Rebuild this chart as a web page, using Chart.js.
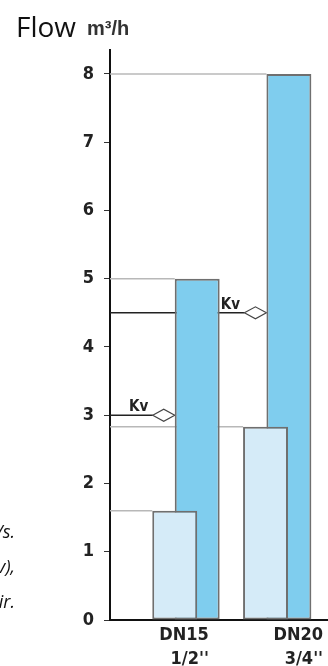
<!DOCTYPE html>
<html lang="en">
<head>
<meta charset="UTF-8">
<script src="https://cdn.jsdelivr.net/npm/chart.js"></script>
<style>
  body { margin: 0; background: #fff; }
  canvas { display: block; }
</style>
</head>
<body>
<canvas id="flowChart" width="328" height="666"></canvas>
<script>
// data
const categories = ['DN15', 'DN20'];
const sizeLabels = ["1/2''", "3/4''"];
const lightValues = [1.6, 2.83];
const darkValues = [5, 8];
const kvValues = [3, 4.5];
const lightPos = [1.44, 3.46];
const darkPos = [1.94, 3.98];
const labelPos = [2.2, 4.74];
const yTicks = [0, 1, 2, 3, 4, 5, 6, 7, 8];
const sideNotes = ['/s.', 'v),', 'ir.'];

const narrow = "'Liberation Sans Narrow', 'DejaVu Sans Condensed', sans-serif";

function kvPoints(chart) {
  const y = chart.scales.y;
  const dark = chart.getDatasetMeta(1).data;
  return kvValues.map((v, i) => ({
    py: y.getPixelForValue(v),
    cx: dark[i].x - dark[i].width / 2 - 11
  }));
}

const refLines = {
  id: 'refLines',
  beforeDatasetsDraw(chart) {
    const { ctx, chartArea } = chart;
    ctx.save();
    // grey lines from the axis to each bar top
    ctx.strokeStyle = '#b8b8b8';
    ctx.lineWidth = 1.5;
    chart.data.datasets.forEach((ds, i) => {
      chart.getDatasetMeta(i).data.forEach(bar => {
        ctx.beginPath();
        ctx.moveTo(chartArea.left, bar.y);
        ctx.lineTo(bar.x - bar.width / 2, bar.y);
        ctx.stroke();
      });
    });
    // Kv lines + diamonds
    kvPoints(chart).forEach(({ py, cx }) => {
      ctx.strokeStyle = '#222';
      ctx.lineWidth = 1.5;
      ctx.beginPath();
      ctx.moveTo(chartArea.left, py);
      ctx.lineTo(cx - 11, py);
      ctx.stroke();
      ctx.beginPath();
      ctx.moveTo(cx - 11, py);
      ctx.lineTo(cx, py - 6);
      ctx.lineTo(cx + 11, py);
      ctx.lineTo(cx, py + 6);
      ctx.closePath();
      ctx.fillStyle = '#fff';
      ctx.fill();
      ctx.strokeStyle = '#444';
      ctx.lineWidth = 1.2;
      ctx.stroke();
    });
    ctx.restore();
  },
  afterDatasetsDraw(chart) {
    const { ctx } = chart;
    ctx.save();
    ctx.fillStyle = '#222';
    ctx.font = 'bold 15px ' + narrow;
    ctx.textAlign = 'center';
    ctx.textBaseline = 'alphabetic';
    kvPoints(chart).forEach(({ py, cx }) => ctx.fillText('Kv', cx - 25, py - 4));
    ctx.restore();
  },
  afterDraw(chart) {
    const { ctx } = chart;
    ctx.save();
    ctx.fillStyle = '#111';
    ctx.textBaseline = 'alphabetic';
    ctx.textAlign = 'left';
    ctx.font = "28px 'Open Sans', sans-serif";
    ctx.fillText('Flow', 16, 37);
    ctx.fillStyle = '#333';
    ctx.font = "bold 20px 'Liberation Sans', Arial, sans-serif";
    ctx.fillText('m³/h', 87, 35);
    ctx.fillStyle = '#111';
    ctx.font = "italic 18px 'Open Sans', sans-serif";
    ctx.textAlign = 'right';
    sideNotes.forEach((t, i) => ctx.fillText(t, 15, 538 + i * 35));
    ctx.restore();
  }
};

new Chart(document.getElementById('flowChart'), {
  type: 'bar',
  data: {
    datasets: [
      {
        label: 'min',
        data: lightValues.map((v, i) => ({ x: lightPos[i], y: v })),
        backgroundColor: '#d5ebf8',
        borderColor: '#6f6f6f',
        borderWidth: 2,
        borderSkipped: false
      },
      {
        label: 'max',
        data: darkValues.map((v, i) => ({ x: darkPos[i], y: v })),
        backgroundColor: '#7fcdee',
        borderColor: '#6f6f6f',
        borderWidth: 2,
        borderSkipped: false
      }
    ]
  },
  options: {
    responsive: false,
    animation: false,
    grouped: false,
    categoryPercentage: 1,
    barPercentage: 2,
    layout: { padding: { top: 50, right: 0, left: 0, bottom: 0 } },
    plugins: { legend: { display: false }, tooltip: { enabled: false } },
    scales: {
      x: {
        type: 'linear',
        offset: false,
        min: 0,
        max: 4.85,
        afterBuildTicks: s => { s.ticks = labelPos.map(v => ({ value: v })); },
        afterFit: s => { s.height = 46; },
        grid: { display: false, drawTicks: false },
        border: { display: true, color: '#111', width: 2 },
        ticks: {
          align: 'end',
          padding: 4,
          color: '#222',
          font: { family: narrow, size: 18, weight: 'bold', lineHeight: 1.3 },
          callback: (v, i) => [categories[i], sizeLabels[i]]
        }
      },
      y: {
        min: 0,
        max: 8.35,
        afterBuildTicks: s => { s.ticks = yTicks.map(v => ({ value: v })); },
        afterFit: s => { s.width = 110; },
        grid: { drawOnChartArea: false, drawTicks: true, tickLength: 6, color: '#333', lineWidth: 1 },
        border: { display: true, color: '#111', width: 2 },
        ticks: {
          padding: 10,
          color: '#222',
          font: { family: narrow, size: 18, weight: 'bold' }
        }
      }
    }
  },
  plugins: [refLines]
});
</script>
</body>
</html>
